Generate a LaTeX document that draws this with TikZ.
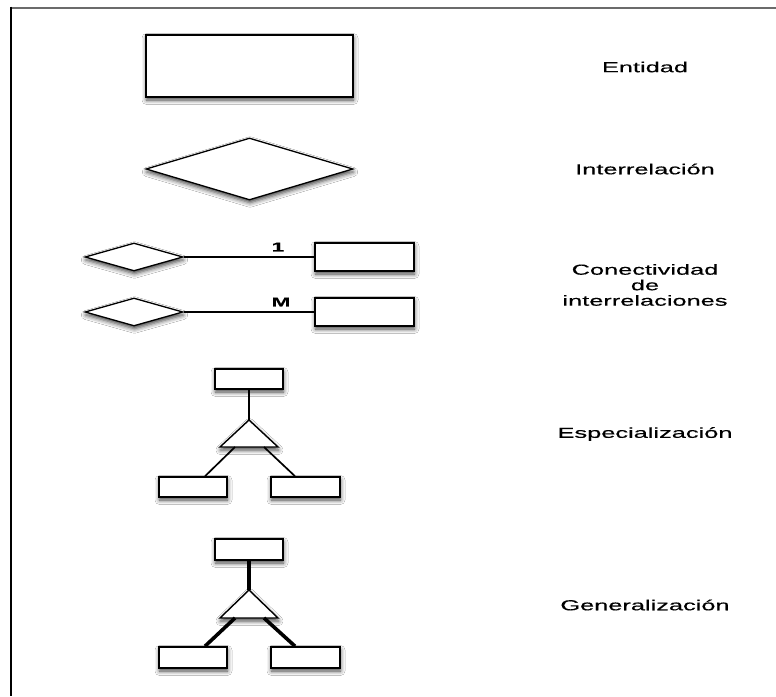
\documentclass[tikz,border=0pt]{standalone}
\usepackage{fontspec}
\newfontfamily\labelfont[FakeStretch=1.75,FakeBold=0.4]{Liberation Sans}
\usetikzlibrary{shapes.geometric,shadows.blur}

\begin{document}
\begin{tikzpicture}[x=1pt,y=-1pt,
  soft/.style={blur shadow={shadow xshift=0.5pt, shadow yshift=-3pt,
      shadow blur radius=4.5pt, shadow opacity=75}},
  entity/.style={draw=black, line width=1.6pt, fill=white, rectangle,
      inner sep=0pt, soft},
  relation/.style={draw=black, line width=1.3pt, fill=white, diamond,
      inner sep=0pt, aspect=1, soft},
  link/.style={draw=black, line width=1.2pt},
  treelink/.style={draw=black, line width=1.7pt},
  heavylink/.style={draw=black, line width=3.6pt},
  caption/.style={font=\labelfont\fontsize{14.5}{15.5}\selectfont,
      align=center, inner sep=0pt},
  card/.style={font=\labelfont\bfseries\fontsize{13}{13}\selectfont,
      inner sep=0pt}
]
\useasboundingbox (0,0) rectangle (776,696);
\fill[white] (0,0) rectangle (776,696);

% frame
\draw[line width=2pt, draw=black!58] (10,7.7) -- (776,7.7);
\draw[line width=2.4pt, draw=black] (10.7,6.7) -- (10.7,696);

% entity
\node[entity, minimum width=207pt, minimum height=62pt] (ent) at (249.5,66) {};

% relationship
\node[relation, minimum width=207pt, minimum height=62pt] (rel) at (249.5,169) {};

% connectivity, cardinality 1
\node[relation, minimum width=98pt, minimum height=28pt] (r1) at (134,257) {};
\node[entity, minimum width=99pt, minimum height=28pt] (e1) at (364.5,257) {};
\draw[link] (r1.east) -- (e1.west);
\node[card] (c1) at (278,247) {1};

% connectivity, cardinality M
\node[relation, minimum width=98pt, minimum height=28pt] (r2) at (134,312) {};
\node[entity, minimum width=99pt, minimum height=28pt] (e2) at (364.5,312) {};
\draw[link] (r2.east) -- (e2.west);
\node[card] (cm) at (281,302) {M};

% specialization
\node[entity, minimum width=68pt, minimum height=20pt] (sp) at (249,379) {};
\draw[line width=1.4pt, fill=white, soft]
  (249,420) coordinate (sApex) -- (278,447) -- (220,447) -- cycle;
\coordinate (sL) at (235,447);
\coordinate (sR) at (264,447);
\node[entity, minimum width=68pt, minimum height=20pt] (sa) at (193,487) {};
\node[entity, minimum width=69pt, minimum height=20pt] (sb) at (305.5,487) {};
\draw[treelink] (sp.south) -- (sApex);
\draw[treelink] (sL) -- (sa.north -| 205,0);
\draw[treelink] (sR) -- (sb.north -| 295,0);

% generalization
\node[entity, minimum width=68pt, minimum height=21pt] (gp) at (249,549.5) {};
\draw[line width=1.4pt, fill=white, soft]
  (249,590) coordinate (gApex) -- (278,618) -- (220,618) -- cycle;
\coordinate (gL) at (235,618);
\coordinate (gR) at (264,618);
\node[entity, minimum width=68pt, minimum height=21pt] (ga) at (193,657.5) {};
\node[entity, minimum width=69pt, minimum height=21pt] (gb) at (305.5,657.5) {};
\draw[heavylink] (gp.south) -- (gApex);
\draw[heavylink] (gL) -- (ga.north -| 205,0);
\draw[heavylink] (gR) -- (gb.north -| 295,0);

% captions
\node[caption] (tEnt) at (645,67) {Entidad};
\node[caption] (tRel) at (645,169) {Interrelación};
\node[caption] (tCon) at (645,285) {Conectividad\\de\\interrelaciones};
\node[caption] (tEsp) at (645,434) {Especialización};
\node[caption] (tGen) at (645,605) {Generalización};
\end{tikzpicture}
\end{document}
